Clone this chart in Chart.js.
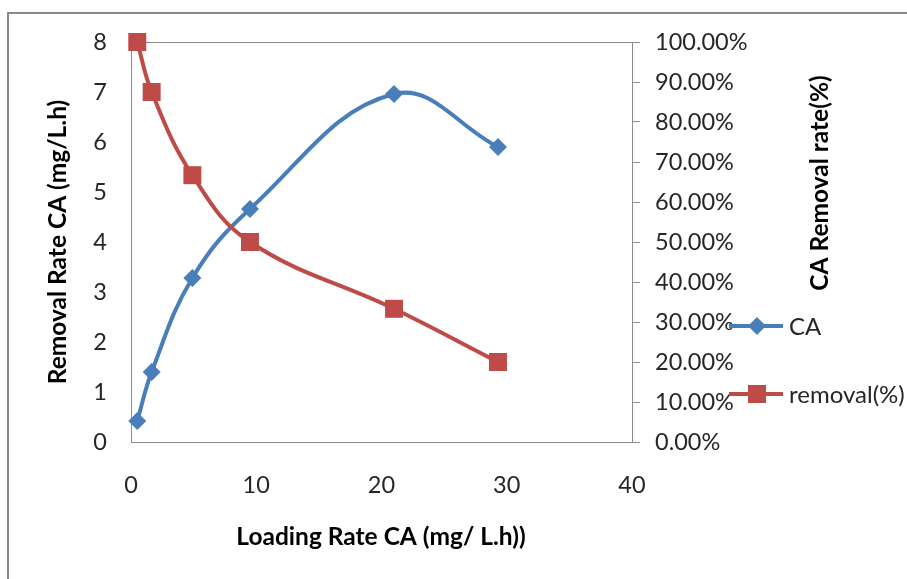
<!DOCTYPE html>
<html>
<head>
<meta charset="utf-8">
<script src="https://cdn.jsdelivr.net/npm/chart.js@4/dist/chart.umd.min.js"></script>
<style>
  html, body { margin: 0; padding: 0; background: #fff; }
  canvas { display: block; }
</style>
</head>
<body>
<canvas id="loadChart" width="907" height="579"></canvas>
<script>
// loading rate (x) shared by both series
const loadingRate = [0.5, 1.65, 4.9, 9.5, 21, 29.3];
// removal rate CA (mg/L.h), left axis
const removalRateCA = [0.42, 1.4, 3.28, 4.66, 6.96, 5.9];
// removal percentage, right axis
const removalPct = [100, 87.5, 66.7, 50, 33.3, 20];

const xTicks = [0, 10, 20, 30, 40];
const yLeftTicks = [0, 1, 2, 3, 4, 5, 6, 7, 8];
const yRightTicks = [0, 10, 20, 30, 40, 50, 60, 70, 80, 90, 100];

const seriesNames = ["CA", "removal(%)"];
const xTitle = "Loading Rate CA (mg/ L.h))";
const yLeftTitle = "Removal Rate CA (mg/L.h)";
const yRightTitle = "CA Removal rate(%)";

const BLUE = "#4a7ebb";
const RED = "#be4b48";
const FONT = "Lato, 'Open Sans', sans-serif";
const TICK_COLOR = "#262626";

const toPoints = (ys) => loadingRate.map((x, i) => ({ x: x, y: ys[i] }));

// frame, plot box, axis titles and legend drawn by hand
const decorations = {
   id: "decorations",
   beforeDraw(chart) {
      const ctx = chart.ctx;
      ctx.save();
      ctx.fillStyle = "#fff";
      ctx.fillRect(0, 0, chart.width, chart.height);
      ctx.strokeStyle = "#898989";
      ctx.lineWidth = 2;
      ctx.strokeRect(8, 13, chart.width + 10, chart.height + 10);
      ctx.restore();
   },
   beforeDatasetsDraw(chart) {
      const { ctx, chartArea: a } = chart;
      ctx.save();
      ctx.strokeStyle = "#8c8c8c";
      ctx.lineWidth = 1;
      ctx.strokeRect(Math.round(a.left) + 0.5, Math.round(a.top) + 0.5,
         Math.round(a.right - a.left), Math.round(a.bottom - a.top));
      ctx.restore();
   },
   afterDraw(chart) {
      const ctx = chart.ctx;
      ctx.save();
      ctx.fillStyle = "#000";
      ctx.font = "bold 24.5px " + FONT;
      ctx.textAlign = "center";
      ctx.textBaseline = "middle";
      ctx.fillText(xTitle, 381, 537);

      ctx.save();
      ctx.translate(58, 242);
      ctx.rotate(-Math.PI / 2);
      ctx.fillText(yLeftTitle, 0, 0);
      ctx.restore();

      ctx.save();
      ctx.translate(820, 183);
      ctx.rotate(-Math.PI / 2);
      ctx.fillText(yRightTitle, 0, 0);
      ctx.restore();

      // legend
      const rows = [
         { y: 326, color: BLUE, style: "diamond", label: seriesNames[0] },
         { y: 394, color: RED, style: "square", label: seriesNames[1] },
      ];
      rows.forEach((r) => {
         ctx.strokeStyle = r.color;
         ctx.lineWidth = 4;
         ctx.beginPath();
         ctx.moveTo(729, r.y);
         ctx.lineTo(783, r.y);
         ctx.stroke();
         ctx.fillStyle = r.color;
         if (r.style === "diamond") {
            ctx.beginPath();
            ctx.moveTo(757, r.y - 9);
            ctx.lineTo(766, r.y);
            ctx.lineTo(757, r.y + 9);
            ctx.lineTo(748, r.y);
            ctx.closePath();
            ctx.fill();
         } else {
            ctx.fillRect(748, r.y - 9, 18, 18);
         }
         ctx.fillStyle = TICK_COLOR;
         ctx.font = "24px " + FONT;
         ctx.textAlign = "left";
         ctx.fillText(r.label, 789, r.y + 1);
      });
      ctx.restore();
   },
};

new Chart(document.getElementById("loadChart"), {
   type: "line",
   data: {
      datasets: [
         {
            label: seriesNames[0],
            data: toPoints(removalRateCA),
            yAxisID: "y",
            borderColor: BLUE,
            backgroundColor: BLUE,
            borderWidth: 4,
            tension: 0.4,
            pointStyle: "rectRot",
            pointRadius: 9,
            pointBorderWidth: 0,
            clip: false,
            order: 1,
         },
         {
            label: seriesNames[1],
            data: toPoints(removalPct),
            yAxisID: "y2",
            borderColor: RED,
            backgroundColor: RED,
            borderWidth: 4,
            tension: 0.4,
            pointStyle: "rect",
            pointRadius: 12.7,
            pointBorderWidth: 0,
            clip: false,
            order: 0,
         },
      ],
   },
   options: {
      responsive: false,
      animation: false,
      events: [],
      layout: { padding: { top: 42, left: 0, right: 0, bottom: 0 } },
      plugins: {
         legend: { display: false },
         tooltip: { enabled: false },
      },
      scales: {
         x: {
            type: "linear",
            min: 0,
            max: 40,
            afterBuildTicks: (s) => { s.ticks = xTicks.map((v) => ({ value: v })); },
            afterFit: (s) => { s.height = 579 - 442; },
            grid: { display: false, drawTicks: false },
            border: { display: false },
            ticks: { padding: 29, color: TICK_COLOR, font: { family: FONT, size: 23.5 } },
         },
         y: {
            position: "left",
            min: 0,
            max: 8,
            afterBuildTicks: (s) => { s.ticks = yLeftTicks.map((v) => ({ value: v })); },
            afterFit: (s) => { s.width = 131; },
            grid: { display: false, drawTicks: false },
            border: { display: false },
            ticks: { padding: 24, color: TICK_COLOR, font: { family: FONT, size: 23.5 } },
         },
         y2: {
            position: "right",
            min: 0,
            max: 100,
            afterBuildTicks: (s) => { s.ticks = yRightTicks.map((v) => ({ value: v })); },
            afterFit: (s) => { s.width = 907 - 632; },
            grid: { drawOnChartArea: false, drawTicks: true, tickLength: 8, color: "#8c8c8c" },
            border: { display: false },
            ticks: {
               padding: 15,
               color: TICK_COLOR,
               font: { family: FONT, size: 23.5 },
               callback: (v) => v.toFixed(2) + "%",
            },
         },
      },
   },
   plugins: [decorations],
});
</script>
</body>
</html>
